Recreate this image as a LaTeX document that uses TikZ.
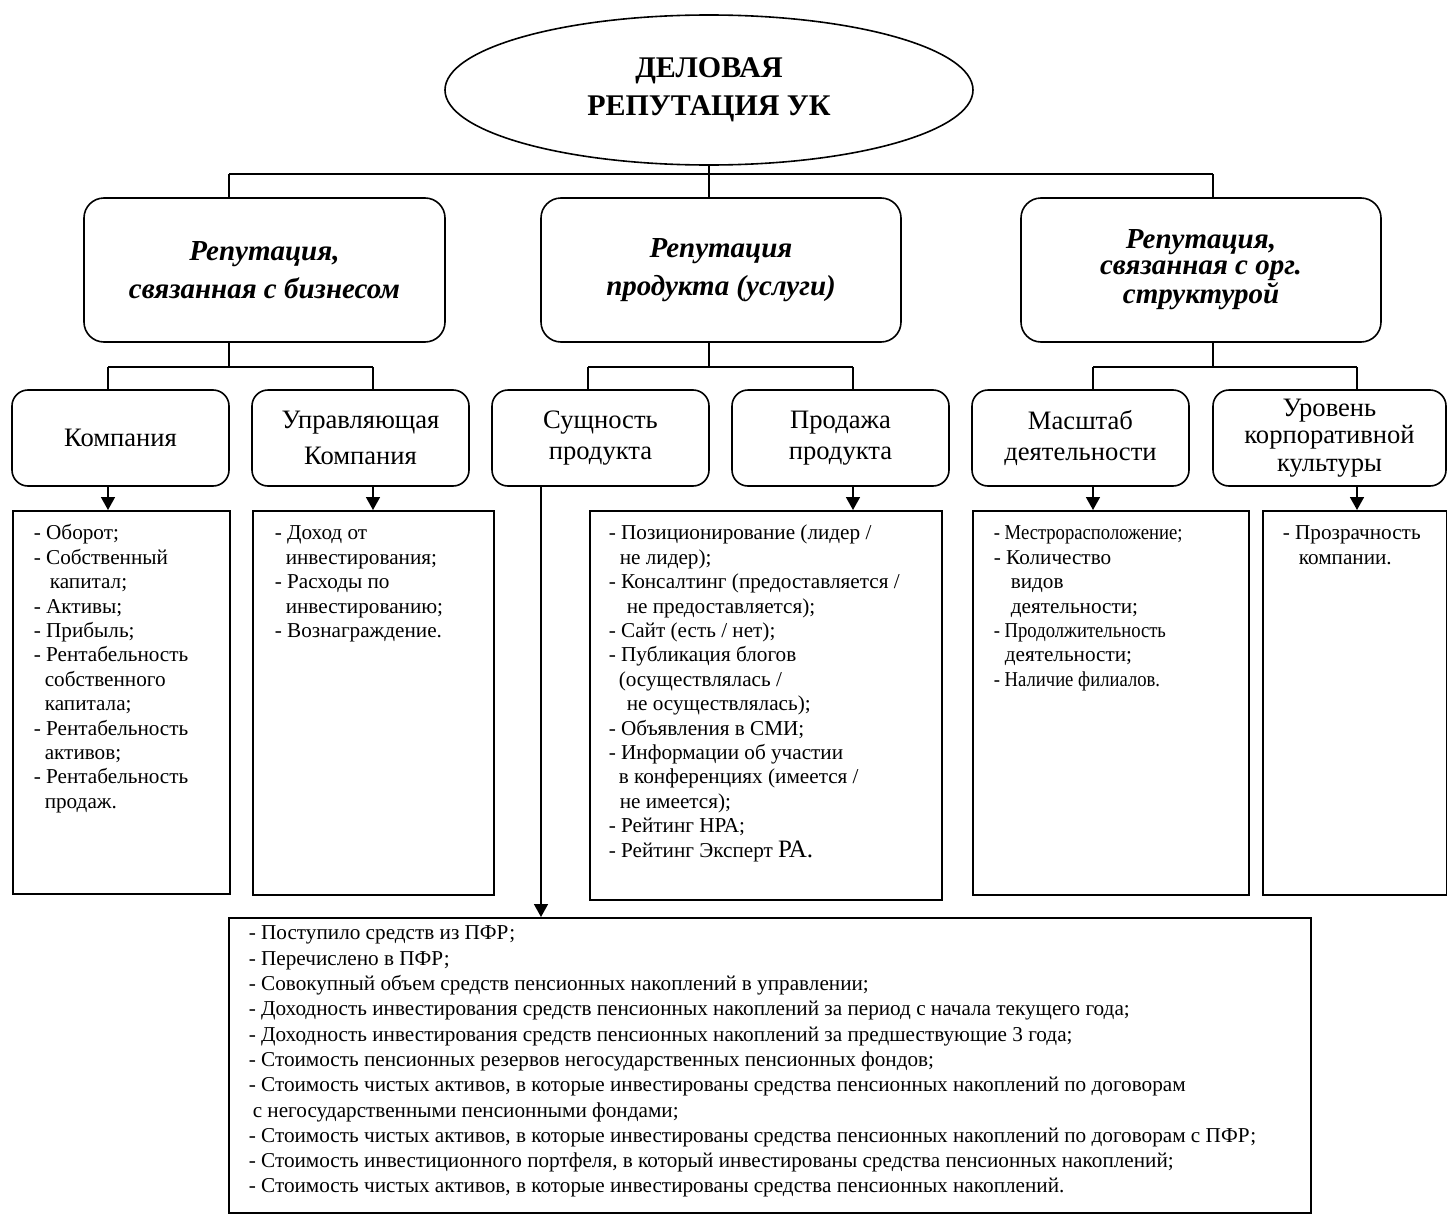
\documentclass[tikz,border=0pt]{standalone}
\usepackage{fontspec}
\setmainfont{Liberation Serif}
\newfontfamily\condfont[FakeStretch=0.88]{Liberation Serif}
\usetikzlibrary{shapes.geometric,arrows.meta}
\begin{document}
\begin{tikzpicture}[x=0.5pt,y=-0.5pt,line width=0.8pt,
  lvtwo/.style={draw,rounded corners=10pt,minimum width=180.5pt,minimum height=72pt,align=center,inner sep=0pt,font=\fontsize{14.5}{19}\selectfont\bfseries\itshape},
  lvthree/.style={draw,rounded corners=8pt,minimum width=108.5pt,minimum height=48pt,align=center,inner sep=0pt,font=\fontsize{13.3}{16}\selectfont},
  listbox/.style={draw,anchor=north west,inner sep=0pt},
  listtext/.style={anchor=north west,align=left,inner sep=0pt,font=\fontsize{10.6}{12.2}\selectfont},
  arr/.style={-{Triangle[length=6.5pt,width=7pt]}}
]
\useasboundingbox (0,0) rectangle (1447,1215);

% top ellipse
\node[draw,ellipse,minimum width=264pt,minimum height=75pt,inner sep=0pt,align=center,
      font=\fontsize{15}{19}\selectfont\bfseries] (top) at (709,90) {ДЕЛОВАЯ\\РЕПУТАЦИЯ УК};

% level 2
\node[lvtwo] (biz) at (264.5,270) {Репутация,\\связанная с бизнесом};
\node[lvtwo,minimum width=180pt] (prod) at (721,270) {Репутация\\продукта (услуги)};
\node[lvtwo,minimum width=180pt,font=\fontsize{14.5}{13}\selectfont\bfseries\itshape] (org) at (1201,270) {Репутация,\\связанная с орг.\\структурой};

% level 3
\node[lvthree] (komp) at (120.5,438) {Компания};
\node[lvthree,font=\fontsize{13.3}{18.3}\selectfont] (uk) at (360.5,438) {Управляющая\\Компания};
\node[lvthree,font=\fontsize{13.3}{15.5}\selectfont] (sush) at (600.5,438) {Сущность\\продукта};
\node[lvthree,font=\fontsize{13.3}{15.5}\selectfont] (prodz) at (840.5,438) {Продажа\\продукта};
\node[lvthree,font=\fontsize{13.3}{15.5}\selectfont] (masht) at (1080.5,438) {Масштаб\\деятельности};
\node[lvthree,minimum width=116.5pt,font=\fontsize{13.3}{13.8}\selectfont] (urov) at (1329.5,438) {Уровень\\корпоративной\\культуры};

% list boxes
\node[listbox,minimum width=108.5pt,minimum height=191.5pt] (lkomp) at (12,510) {};
\node[listbox,minimum width=120.5pt,minimum height=192pt] (luk) at (252,510) {};
\node[listbox,minimum width=176pt,minimum height=194.5pt] (lprod) at (589,510) {};
\node[listbox,minimum width=138pt,minimum height=192pt] (lmasht) at (972,510) {};
\node[listbox,minimum width=92pt,minimum height=192pt] (lurov) at (1262,510) {};
\node[listbox,minimum width=541pt,minimum height=147.5pt] (bot) at (228,917) {};

% list texts
\node[listtext] (tkomp) at ([xshift=10.5pt,yshift=-6pt]lkomp.north west) {\strut- Оборот;\\
- Собственный\\
\hspace*{8pt}капитал;\\
- Активы;\\
- Прибыль;\\
- Рентабельность\\
\hspace*{5.5pt}собственного\\
\hspace*{5.5pt}капитала;\\
- Рентабельность\\
\hspace*{5.5pt}активов;\\
- Рентабельность\\
\hspace*{5.5pt}продаж.};

\node[listtext] (tuk) at ([xshift=11pt,yshift=-6pt]luk.north west) {\strut- Доход от\\
\hspace*{5.5pt}инвестирования;\\
- Расходы по\\
\hspace*{5.5pt}инвестированию;\\
- Вознаграждение.};

\node[listtext] (tprod) at ([xshift=9.5pt,yshift=-6pt]lprod.north west) {\strut- Позиционирование (лидер /\\
\hspace*{5.5pt}не лидер);\\
- Консалтинг (предоставляется /\\
\hspace*{9pt}не предоставляется);\\
- Сайт (есть / нет);\\
- Публикация блогов\\
\hspace*{5pt}(осуществлялась /\\
\hspace*{9pt}не осуществлялась);\\
- Объявления в СМИ;\\
- Информации об участии\\
\hspace*{5pt}в конференциях (имеется /\\
\hspace*{5.5pt}не имеется);\\
- Рейтинг НРА;\\
- Рейтинг Эксперт {\fontsize{12.5}{12.2}\selectfont РА.}};

\node[listtext] (tmasht) at ([xshift=10.5pt,yshift=-6pt]lmasht.north west) {\strut{\condfont - Местрорасположение;}\\
- Количество\\
\hspace*{8.5pt}видов\\
\hspace*{8.5pt}деятельности;\\
{\condfont - Продолжительность}\\
\hspace*{5.5pt}деятельности;\\
{\condfont - Наличие филиалов.}};

\node[listtext] (turov) at ([xshift=10pt,yshift=-6pt]lurov.north west) {\strut- Прозрачность\\
\hspace*{8pt}компании.};

\node[listtext,font=\fontsize{10.6}{12.65}\selectfont] (tbot) at ([xshift=10pt,yshift=-2.2pt]bot.north west) {\strut- Поступило средств из ПФР;\\
- Перечислено в ПФР;\\
- Совокупный объем средств пенсионных накоплений в управлении;\\
- Доходность инвестирования средств пенсионных накоплений за период с начала текущего года;\\
- Доходность инвестирования средств пенсионных накоплений за предшествующие 3 года;\\
- Стоимость пенсионных резервов негосударственных пенсионных фондов;\\
- Стоимость чистых активов, в которые инвестированы средства пенсионных накоплений по договорам\\
\hspace*{2pt}с негосударственными пенсионными фондами;\\
- Стоимость чистых активов, в которые инвестированы средства пенсионных накоплений по договорам с ПФР;\\
- Стоимость инвестиционного портфеля, в который инвестированы средства пенсионных накоплений;\\
- Стоимость чистых активов, в которые инвестированы средства пенсионных накоплений.};

% connector coordinates
\coordinate (barL) at (229,174);
\coordinate (barR) at (1213,174);
\coordinate (sbL) at (229,367);
\coordinate (sbM) at (709,367);
\coordinate (sbR) at (1213,367);
\coordinate (kx) at (108,367);
\coordinate (ux) at (373,367);
\coordinate (sx) at (588,367);
\coordinate (px) at (853,367);
\coordinate (mx) at (1093,367);
\coordinate (yx) at (1357,367);
\coordinate (sline) at (541,367);

% top connectors
\draw (top.south) -- (top.south |- barL);
\draw (barL) -- (barR);
\draw (barL) -- (barL |- biz.north);
\draw (top.south |- barL) -- (top.south |- prod.north);
\draw (barR) -- (barR |- org.north);

% level 2 -> level 3
\draw (barL |- biz.south) -- (sbL);
\draw (kx) -- (ux);
\draw (kx) -- (kx |- komp.north);
\draw (ux) -- (ux |- uk.north);

\draw (sbM |- prod.south) -- (sbM);
\draw (sx) -- (px);
\draw (sx) -- (sx |- sush.north);
\draw (px) -- (px |- prodz.north);

\draw (sbR |- org.south) -- (sbR);
\draw (mx) -- (yx);
\draw (mx) -- (mx |- masht.north);
\draw (yx) -- (yx |- urov.north);

% level 3 -> lists
\draw[arr] (kx |- komp.south) -- (kx |- lkomp.north);
\draw[arr] (ux |- uk.south) -- (ux |- luk.north);
\draw[arr] (px |- prodz.south) -- (px |- lprod.north);
\draw[arr] (mx |- masht.south) -- (mx |- lmasht.north);
\draw[arr] (yx |- urov.south) -- (yx |- lurov.north);
\draw[arr] (sline |- sush.south) -- (sline |- bot.north);
\end{tikzpicture}
\end{document}
